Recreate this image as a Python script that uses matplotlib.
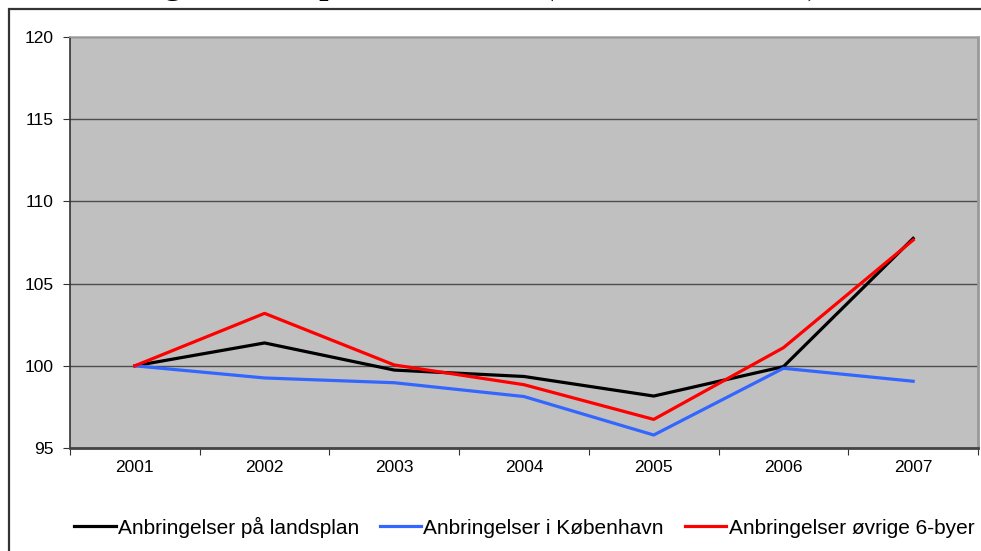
import matplotlib
matplotlib.use("Agg")
import matplotlib.pyplot as plt
from matplotlib.patches import Rectangle

years = ["2001", "2002", "2003", "2004", "2005", "2006", "2007"]
landsplan = [100.0, 101.39, 99.74, 99.35, 98.16, 99.95, 107.75]
koebenhavn = [100.0, 99.26, 98.97, 98.13, 95.79, 99.85, 99.06]
oevrige = [100.0, 103.19, 100.05, 98.85, 96.74, 101.1, 107.65]
series_names = ["Anbringelser på landsplan", "Anbringelser i København",
                "Anbringelser øvrige 6-byer"]
title_text = "Anbringelser i alt pr. 10.000 børn (indeks 2001 = 100)"

plt.rcParams["font.family"] = ["Liberation Sans", "DejaVu Sans"]

W, H = 981, 551
fig = plt.figure(figsize=(W / 100, H / 100), dpi=100)
fig.patch.set_facecolor("white")

# outer chart frame (only left and top edges visible)
fig.patches.append(Rectangle((8.5 / W, -0.1), 1.2, 1.1 - 9.5 / H,
                             transform=fig.transFigure, fill=False,
                             edgecolor="#333333", linewidth=1.6))

# cropped title (only descenders visible)
fig.text(61 / W, 1 + 6 / H, title_text, ha="left", va="baseline",
         fontsize=24, fontweight="bold", family="Liberation Serif")

ax = fig.add_axes([70 / W, 1 - 448 / H, (978 - 70) / W, (448 - 37) / H])
ax.set_facecolor("#c0c0c0")

x = list(range(len(years)))
ax.plot(x, landsplan, color="black", lw=2.3, label=series_names[0], zorder=3)
ax.plot(x, koebenhavn, color="#3366ff", lw=2.3, label=series_names[1], zorder=3)
ax.plot(x, oevrige, color="#ff0000", lw=2.3, label=series_names[2], zorder=3)

ax.set_xlim(-0.5, len(years) - 0.5)
ax.set_ylim(95, 120)
ax.set_yticks([95, 100, 105, 110, 115, 120])
ax.yaxis.grid(True, color="#4d4d4d", lw=1.0)
ax.set_axisbelow(True)

ax.set_xticks([i - 0.5 for i in range(len(years) + 1)])
ax.set_xticklabels([])
ax.set_xticks(x, minor=True)
ax.set_xticklabels(years, minor=True)
ax.tick_params(axis="x", which="major", direction="out", length=5,
               color="#333333")
ax.tick_params(axis="x", which="minor", length=0, pad=9, labelsize=12.5)
ax.tick_params(axis="y", direction="out", length=5, color="#333333",
               pad=7, labelsize=12.5)

ax.spines["left"].set_color("#333333")
ax.spines["left"].set_linewidth(1.2)
ax.spines["bottom"].set_color("#444444")
ax.spines["bottom"].set_linewidth(2.0)
ax.spines["top"].set_color("#a8a8a8")
ax.spines["top"].set_linewidth(1.2)
ax.spines["right"].set_color("#999999")
ax.spines["right"].set_linewidth(2.0)

fig.legend(loc="center", bbox_to_anchor=(524 / W, 24 / H), ncol=3,
           frameon=False, fontsize=15, handlelength=2.0, handletextpad=0.1,
           columnspacing=1.0, borderpad=0)

fig.savefig("out.png", dpi=100)
